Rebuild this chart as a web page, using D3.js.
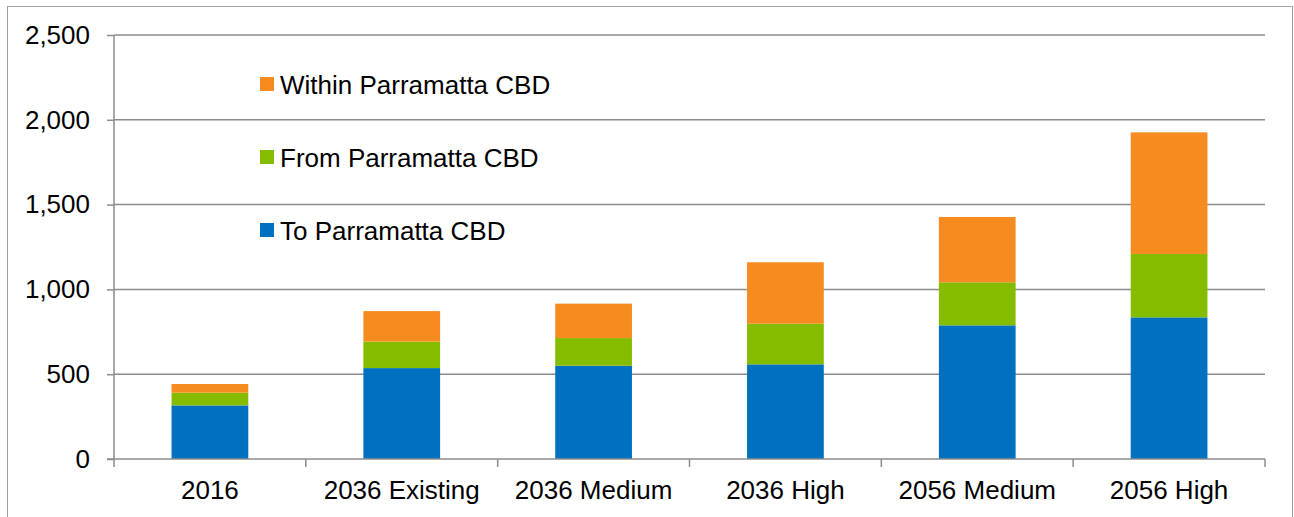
<!DOCTYPE html>
<html>
<head>
<meta charset="utf-8">
<script src="https://cdn.jsdelivr.net/npm/d3@7"></script>
<style>
  html, body { margin: 0; padding: 0; background: #fff; }
  svg text { font-family: "Liberation Sans", Arial, sans-serif; fill: #000; }
</style>
</head>
<body>
<svg id="chart" width="1294" height="517"></svg>
<script>
const categories = ["2016", "2036 Existing", "2036 Medium", "2036 High", "2056 Medium", "2056 High"];
const toCBD = [316, 536, 550, 558, 788, 835];
const fromCBD = [75, 156, 163, 240, 254, 374];
const withinCBD = [51, 180, 203, 362, 385, 717];
const seriesNames = ["To Parramatta CBD", "From Parramatta CBD", "Within Parramatta CBD"];
const seriesColors = ["#0070C0", "#85BC00", "#F68B20"];
const yTicks = [0, 500, 1000, 1500, 2000, 2500];

const svg = d3.select("#chart");
const W = 1294, H = 517;
const m = { left: 114, right: 1265, top: 35, bottom: 459 };

// outer border
svg.append("rect").attr("x", 7.5).attr("y", 6.5).attr("width", 1285).attr("height", 520)
  .attr("fill", "none").attr("stroke", "#a0a0a0").attr("stroke-width", 1);

const x = d3.scaleBand().domain(categories).range([m.left, m.right])
  .paddingInner(0.6).paddingOuter(0.3);
const y = d3.scaleLinear().domain([0, 2500]).range([m.bottom, m.top]);

// gridlines
svg.append("g").selectAll("line").data(yTicks.filter(d => d > 0)).join("line")
  .attr("x1", m.left).attr("x2", m.right)
  .attr("y1", d => y(d)).attr("y2", d => y(d))
  .attr("stroke", "#8c8c8c").attr("stroke-width", 1.5);

// stacked data
const rows = categories.map((c, i) => ({ cat: c, to: toCBD[i], from: fromCBD[i], within: withinCBD[i] }));
const stack = d3.stack().keys(["to", "from", "within"]);
const stacked = stack(rows);

svg.append("g").selectAll("g").data(stacked).join("g")
  .attr("fill", (d, i) => seriesColors[i])
  .selectAll("rect").data(d => d).join("rect")
  .attr("x", d => x(d.data.cat))
  .attr("width", x.bandwidth())
  .attr("y", d => y(d[1]))
  .attr("height", d => y(d[0]) - y(d[1]));

// y axis
const yAxis = d3.axisLeft(y).tickValues(yTicks).tickFormat(d3.format(",")).tickSize(7).tickPadding(17);
const gy = svg.append("g").attr("transform", `translate(${m.left},0)`).call(yAxis);
gy.select(".domain").attr("stroke", "#8c8c8c").attr("stroke-width", 1.5).attr("d", `M0,${m.top}V${m.bottom}`);
gy.selectAll(".tick line").attr("stroke", "#8c8c8c").attr("stroke-width", 1.5);
gy.selectAll("text").attr("font-size", 26).attr("fill", "#000")
  .style("font-family", "'Liberation Sans', Arial, sans-serif");

// x axis (ticks on band boundaries)
svg.append("line").attr("x1", m.left - 7).attr("x2", m.right).attr("y1", m.bottom).attr("y2", m.bottom)
  .attr("stroke", "#8c8c8c").attr("stroke-width", 1.5);
const boundaries = categories.map(c => x(c) - x.step() * x.paddingInner() / 2).concat([m.right]);
svg.append("g").selectAll("line").data(boundaries).join("line")
  .attr("x1", d => d).attr("x2", d => d).attr("y1", m.bottom).attr("y2", m.bottom + 8)
  .attr("stroke", "#8c8c8c").attr("stroke-width", 1.5);
svg.append("g").selectAll("text").data(categories).join("text")
  .attr("x", d => x(d) + x.bandwidth() / 2)
  .attr("y", 499)
  .attr("text-anchor", "middle")
  .attr("font-size", 26)
  .text(d => d);

// legend
const legendOrder = [2, 1, 0];
const lg = svg.append("g");
legendOrder.forEach((si, k) => {
  const yy = 77 + k * 73;
  lg.append("rect").attr("x", 260).attr("y", yy).attr("width", 14).attr("height", 14)
    .attr("fill", seriesColors[si]);
  lg.append("text").attr("x", 280).attr("y", yy + 16.5).attr("font-size", 26)
    .text(seriesNames[si]);
});
</script>
</body>
</html>
